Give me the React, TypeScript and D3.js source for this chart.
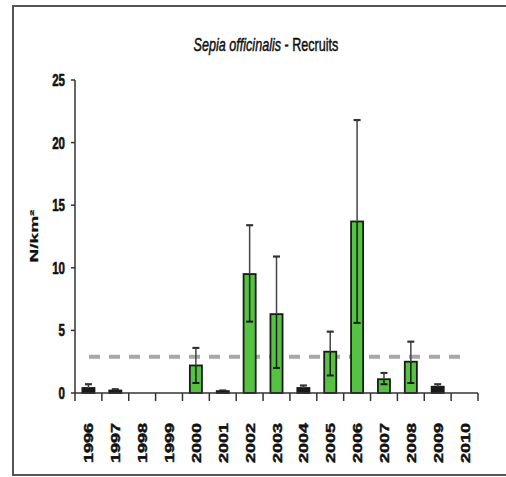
import React from 'react';
import * as d3 from 'd3';

const years = ['1996','1997','1998','1999','2000','2001','2002','2003','2004','2005','2006','2007','2008','2009','2010'];
const means = [0.4, 0.2, 0, 0, 2.2, 0.15, 9.5, 6.3, 0.4, 3.3, 13.7, 1.1, 2.5, 0.5, 0];
const upper = [0.7, 0.3, 0, 0, 3.6, 0.2, 13.4, 10.9, 0.6, 4.9, 21.8, 1.6, 4.1, 0.7, 0];
const lower = [0.15, 0.1, 0, 0, 0.8, 0.1, 5.7, 2.0, 0.2, 1.4, 5.6, 0.7, 0.8, 0.3, 0];
const yTicks = [0, 5, 10, 15, 20, 25];
const referenceLevel = 2.9;
const titleItalic = 'Sepia officinalis';
const titleRest = ' - Recruits';
const yLabel = 'N/km²';

export default function App() {
  const W = 506, H = 477;
  const x = d3.scaleBand<string>().domain(years).range([75, 478]).paddingInner(0.55).paddingOuter(0.275);
  const y = d3.scaleLinear().domain([0, 25]).range([393, 80]);
  const step = x.step();
  const bw = x.bandwidth();
  const font = "'Liberation Sans', Arial, sans-serif";
  const boundaries = d3.range(years.length + 1).map(i => 75 + i * step);
  return (
    <svg width={W} height={H} style={{ position: 'absolute', left: 0, top: 0, background: '#fff' }}>
      <rect x={13} y={6} width={W} height={469} fill="#fff" stroke="#555" strokeWidth={2} />
      <g transform="translate(266,51) scale(0.7,1)">
        <text x={0} y={0} textAnchor="middle" fontFamily={font} fontSize={18} fill="#111" stroke="#111" strokeWidth={0.5}>
          <tspan fontStyle="italic">{titleItalic}</tspan>
          <tspan>{titleRest}</tspan>
        </text>
      </g>
      {/* reference dashed line */}
      <line x1={89} x2={464} y1={y(referenceLevel)} y2={y(referenceLevel)} stroke="#a8a8a8" strokeWidth={4} strokeDasharray="11,9" />
      {/* bars */}
      {years.map((yr, i) => {
        const cx = (x(yr) as number) + bw / 2;
        if (means[i] <= 0) return null;
        const small = means[i] < 1;
        return (
          <g key={yr}>
            <rect x={x(yr)} y={y(means[i])} width={bw} height={y(0) - y(means[i])} fill={small ? '#1a1a1a' : '#55c241'} stroke="#1a1a1a" strokeWidth={1.8} />
            <line x1={cx} x2={cx} y1={y(means[i])} y2={y(lower[i])} stroke="#1a1a1a" strokeWidth={1.5} />
            <line x1={cx} x2={cx} y1={y(upper[i])} y2={y(means[i])} stroke="#444" strokeWidth={1.5} />
            <line x1={cx - 3.5} x2={cx + 3.5} y1={y(upper[i])} y2={y(upper[i])} stroke="#333" strokeWidth={2.2} />
            <line x1={cx - 3.5} x2={cx + 3.5} y1={y(lower[i])} y2={y(lower[i])} stroke="#1a1a1a" strokeWidth={2} />
          </g>
        );
      })}
      {/* y axis */}
      <line x1={75} x2={75} y1={y(25)} y2={y(0)} stroke="#333" strokeWidth={1.5} />
      {yTicks.map(t => (
        <g key={t}>
          <line x1={71} x2={75} y1={y(t)} y2={y(t)} stroke="#333" strokeWidth={1.5} />
          <g transform={`translate(65,${y(t) + 6}) scale(0.68,1)`}>
            <text textAnchor="end" fontFamily={font} fontWeight="bold" fontSize={17} fill="#111" stroke="#111" strokeWidth={0.6}>{t}</text>
          </g>
        </g>
      ))}
      {/* x axis */}
      <line x1={75} x2={478} y1={y(0)} y2={y(0)} stroke="#333" strokeWidth={1.5} />
      {boundaries.map((b, i) => (
        <line key={i} x1={b} x2={b} y1={y(0)} y2={y(0) + 8} stroke="#333" strokeWidth={1.5} />
      ))}
      {years.map(yr => {
        const cx = (x(yr) as number) + bw / 2;
        return (
          <g key={yr} transform={`translate(${cx + 5},463) rotate(-90) scale(1,0.72)`}>
            <text textAnchor="start" fontFamily={font} fontWeight="bold" fontSize={18} fill="#111" stroke="#111" strokeWidth={0.6}>{yr}</text>
          </g>
        );
      })}
      <g transform="translate(38,236) rotate(-90) scale(1,0.55)">
        <text textAnchor="middle" fontFamily={font} fontWeight="bold" fontSize={19} fill="#111" stroke="#111" strokeWidth={0.4}>{yLabel}</text>
      </g>
    </svg>
  );
}
